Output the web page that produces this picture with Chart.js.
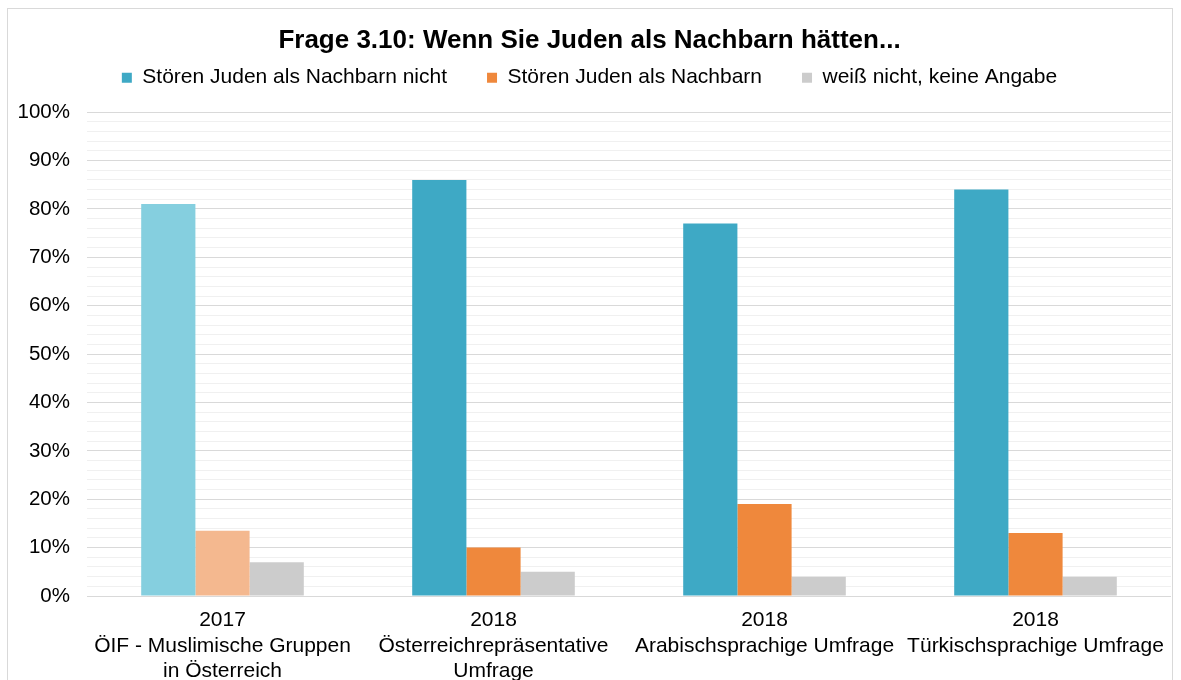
<!DOCTYPE html>
<html>
<head>
<meta charset="utf-8">
<script src="https://cdn.jsdelivr.net/npm/chart.js@4"></script>
<style>
  body{margin:0;background:#fff;width:1181px;height:680px;overflow:hidden;position:relative;}
  #frame{position:absolute;left:7px;top:8px;width:1164px;height:700px;border:1px solid #D9D9D9;}
  #wrap{position:absolute;left:8px;top:9px;width:1164px;height:671px;}
</style>
</head>
<body>
<div id="frame"></div>
<div id="wrap"><canvas id="mycanvas"></canvas></div>
<script>
var categories = [
  ["2017", "ÖIF - Muslimische Gruppen", "in Österreich"],
  ["2018", "Österreichrepräsentative", "Umfrage"],
  ["2018", "Arabischsprachige Umfrage"],
  ["2018", "Türkischsprachige Umfrage"]
];
var seriesNames = ["Stören Juden als Nachbarn nicht", "Stören Juden als Nachbarn", "weiß nicht, keine Angabe"];
var nichtStoeren = [81, 86, 77, 84];
var stoeren = [13.5, 10, 19, 13];
var weissNicht = [7, 5, 4, 4];

// 2017 group drawn in lighter tones
var blue = ['#85CFDF', '#3EA9C5', '#3EA9C5', '#3EA9C5'];
var orange = ['#F4B88F', '#EF883C', '#EF883C', '#EF883C'];
var grey = ['#CCCCCC', '#CCCCCC', '#CCCCCC', '#CCCCCC'];

var font = "'Liberation Sans', Arial, sans-serif";

var chardata = {
  labels: categories,
  datasets: [
    {label: seriesNames[0], data: nichtStoeren, backgroundColor: blue},
    {label: seriesNames[1], data: stoeren, backgroundColor: orange},
    {label: seriesNames[2], data: weissNicht, backgroundColor: grey}
  ]
};

// extra space below the legend
var legendMargin = {
  id: 'legendMargin',
  beforeInit: function(chart) {
    var fit = chart.legend.fit;
    chart.legend.fit = function() {
      fit.bind(chart.legend)();
      this.height += 14;
    };
  }
};

var ctx = document.getElementById('mycanvas');
var barGraph = new Chart(ctx, {
  type: 'bar',
  data: chardata,
  plugins: [legendMargin],
  options: {
    responsive: true,
    maintainAspectRatio: false,
    animation: false,
    layout: {padding: {left: 0, right: 1, top: 0, bottom: 0}},
    datasets: {bar: {categoryPercentage: 0.6, barPercentage: 1.0}},
    plugins: {
      tooltip: {enabled: false},
      title: {
        display: true,
        text: 'Frage 3.10: Wenn Sie Juden als Nachbarn hätten...',
        color: '#000',
        font: {family: font, size: 26, weight: 'bold'},
        padding: {top: 16, bottom: -29}
      },
      legend: {
        position: 'top',
        labels: {
          color: '#000',
          font: {family: font, size: 21},
          boxWidth: 10,
          boxHeight: 10,
          padding: 40,
          generateLabels: function(chart) {
            var cols = ['#3EA9C5', '#EF883C', '#CCCCCC'];
            return chart.data.datasets.map(function(ds, i) {
              return {text: ds.label, fillStyle: cols[i], strokeStyle: cols[i], lineWidth: 0, datasetIndex: i, hidden: false};
            });
          }
        }
      }
    },
    scales: {
      x: {
        grid: {display: false},
        border: {display: false},
        ticks: {color: '#000', font: {family: font, size: 21}, padding: 4, maxRotation: 0, autoSkip: false},
        afterFit: function(scale) { scale.height = 84; }
      },
      y: {
        min: 0,
        max: 100,
        border: {display: false},
        grid: {
          drawTicks: false,
          color: function(c) { return c.tick && c.tick.value % 10 === 0 ? '#D9D9D9' : '#F0F0F0'; }
        },
        ticks: {
          stepSize: 2,
          autoSkip: false,
          padding: 17,
          color: '#000',
          font: {family: font, size: 20.5},
          callback: function(v) { return v % 10 === 0 ? v + '%' : ''; }
        },
        afterFit: function(scale) { scale.width = 79; }
      }
    }
  }
});
</script>
</body>
</html>
